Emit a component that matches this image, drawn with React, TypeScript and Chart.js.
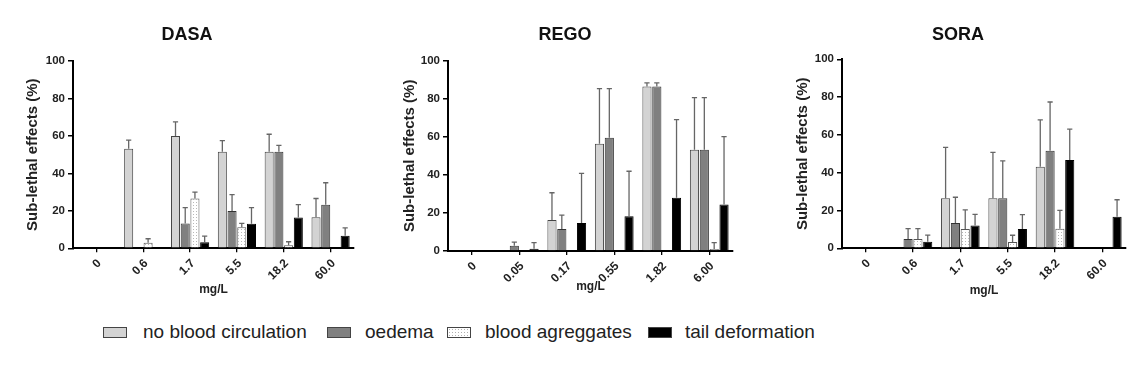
import React, { useEffect, useRef } from "react";
import { Chart, registerables } from "chart.js";

Chart.register(...registerables);

const FONT = "'Liberation Sans', Arial, Helvetica, sans-serif";

// ---- series names ----
const seriesNames = ["no blood circulation", "oedema", "blood agreggates", "tail deformation"];

// ---- DASA ----
const dasaDoses = ["0", "0.6", "1.7", "5.5", "18.2", "60.0"];
const dasaNoBlood = [0, 53.2, 60, 51.6, 51.6, 16.6];
const dasaNoBloodSD = [0, 4.6, 7.5, 5.9, 9.3, 10.0];
const dasaOedema = [0, 0, 13.2, 19.9, 51.6, 23.2];
const dasaOedemaSD = [0, 0, 8.5, 8.8, 3.3, 11.8];
const dasaAggregates = [0, 3.0, 26.6, 11.3, 1.6, 0];
const dasaAggregatesSD = [0, 2.1, 3.4, 2.0, 1.9, 0];
const dasaTail = [0, 0, 3.2, 13.1, 16.5, 6.7];
const dasaTailSD = [0, 0, 3.3, 8.6, 6.8, 4.2];

// ---- REGO ----
const regoDoses = ["0", "0.05", "0.17", "0.55", "1.82", "6.00"];
const regoNoBlood = [0, 0, 16.3, 56.4, 86.4, 53.2];
const regoNoBloodSD = [0, 0, 14.3, 28.9, 1.9, 27.4];
const regoOedema = [0, 2.8, 11.6, 59.5, 86.4, 53.2];
const regoOedemaSD = [0, 1.9, 7.2, 25.8, 1.9, 27.4];
const regoAggregates = [0, 0, 0, 0, 0, 1.0];
const regoAggregatesSD = [0, 0, 0, 0, 0, 3.4];
const regoTail = [0, 1.2, 14.7, 18.2, 28.0, 24.5];
const regoTailSD = [0, 3.2, 26.1, 23.7, 41.0, 35.6];

// ---- SORA ----
const soraDoses = ["0", "0.6", "1.7", "5.5", "18.2", "60.0"];
const soraNoBlood = [0, 0, 26.5, 26.5, 43.2, 0];
const soraNoBloodSD = [0, 0, 26.9, 24.3, 24.7, 0];
const soraOedema = [0, 4.9, 13.4, 26.5, 51.6, 0];
const soraOedemaSD = [0, 5.5, 13.6, 19.8, 25.8, 0];
const soraAggregates = [0, 4.9, 10.2, 3.3, 10.4, 0];
const soraAggregatesSD = [0, 5.5, 10.1, 3.6, 9.7, 0];
const soraTail = [0, 3.5, 12.0, 10.2, 46.7, 16.7];
const soraTailSD = [0, 3.5, 6.0, 7.6, 16.4, 9.0];

const yTicks = [0, 20, 40, 60, 80, 100];

const LIGHT = "#d3d3d3";
const DARK = "#808080";
const BLACK = "#000000";

function makeDotPattern(): CanvasPattern | string {
  const c = document.createElement("canvas");
  c.width = 3;
  c.height = 3;
  const g = c.getContext("2d");
  if (!g) return "#ffffff";
  g.fillStyle = "#ffffff";
  g.fillRect(0, 0, 3, 3);
  g.fillStyle = "#b8b8b8";
  g.fillRect(1, 1, 1, 1);
  const p = g.createPattern(c, "repeat");
  return p || "#ffffff";
}

const errorBarPlugin = {
  id: "errorBars",
  afterDatasetsDraw(chart: any) {
    const ctx = chart.ctx;
    const yScale = chart.scales.y;
    chart.data.datasets.forEach((ds: any, i: number) => {
      const errs: number[] = ds.errors;
      if (!errs) return;
      const meta = chart.getDatasetMeta(i);
      meta.data.forEach((bar: any, j: number) => {
        const v = ds.data[j] as number;
        const e = errs[j];
        if (!e) return;
        const x = bar.x;
        const yBase = yScale.getPixelForValue(v);
        const yTop = yScale.getPixelForValue(v + e);
        ctx.save();
        ctx.strokeStyle = "#666666";
        ctx.lineWidth = 1.3;
        ctx.beginPath();
        ctx.moveTo(x, yBase);
        ctx.lineTo(x, yTop);
        ctx.moveTo(x - 2.6, yTop);
        ctx.lineTo(x + 2.6, yTop);
        ctx.stroke();
        ctx.restore();
      });
    });
  },
};

type Geo = {
  left: number;
  width: number;
  height: number;
  padLeft: number;
  yWidth: number;
  padRight: number;
  titleTop: number;
  titleBottom: number;
  xHeight: number;
  padBottom: number;
};

type PanelProps = {
  title: string;
  labels: string[];
  values: number[][];
  errors: number[][];
  geo: Geo;
};

function Panel({ title, labels, values, errors, geo }: PanelProps) {
  const ref = useRef<HTMLCanvasElement | null>(null);
  useEffect(() => {
    if (!ref.current) return;
    const dots = makeDotPattern();
    const fills: any[] = [LIGHT, DARK, dots, BLACK];
    const borders = ["#444444", "#333333", "#555555", "#000000"];
    const chart = new Chart(ref.current, {
      type: "bar",
      data: {
        labels,
        datasets: values.map((vals, i) => ({
          label: seriesNames[i],
          data: vals,
          errors: errors[i],
          backgroundColor: fills[i],
          borderColor: borders[i],
          borderWidth: 1,
          categoryPercentage: 0.83,
          barPercentage: 0.93,
        })) as any,
      },
      options: {
        animation: false,
        responsive: true,
        maintainAspectRatio: false,
        layout: {
          padding: { left: geo.padLeft, right: geo.padRight, top: 0, bottom: geo.padBottom },
        },
        plugins: {
          legend: { display: false },
          tooltip: { enabled: false },
          title: {
            display: true,
            text: title,
            color: "#111111",
            font: { family: FONT, size: 18, weight: "bold" },
            padding: { top: geo.titleTop, bottom: geo.titleBottom },
          },
        },
        scales: {
          x: {
            afterFit: (s: any) => {
              s.height = geo.xHeight;
            },
            grid: {
              display: true,
              drawOnChartArea: false,
              drawTicks: true,
              tickLength: 4,
              offset: false,
              color: "#000000",
              lineWidth: 1.3,
            },
            border: { display: true, color: "#000000", width: 2 },
            ticks: {
              autoSkip: false,
              maxRotation: 45,
              minRotation: 45,
              padding: 4,
              labelOffset: 3,
              color: "#222222",
              font: { family: FONT, size: 12, weight: "bold" },
            },
            title: {
              display: true,
              text: "mg/L",
              color: "#222222",
              padding: { top: 4, bottom: 4 },
              font: { family: FONT, size: 12, weight: "bold" },
            },
          },
          y: {
            min: 0,
            max: 100,
            afterFit: (s: any) => {
              s.width = geo.yWidth;
            },
            afterBuildTicks: (s: any) => {
              s.ticks = yTicks.map((v) => ({ value: v }));
            },
            grid: {
              display: true,
              drawOnChartArea: false,
              drawTicks: true,
              tickLength: 5,
              color: "#000000",
              lineWidth: 1.5,
            },
            border: { display: true, color: "#000000", width: 2 },
            ticks: {
              padding: 3,
              color: "#222222",
              font: { family: FONT, size: 11.5, weight: "bold" },
            },
            title: {
              display: true,
              text: "Sub-lethal effects (%)",
              color: "#222222",
              padding: { top: 4, bottom: 4 },
              font: { family: FONT, size: 15, weight: "bold" },
            },
          },
        },
      } as any,
      plugins: [errorBarPlugin as any],
    });
    return () => chart.destroy();
  }, []);
  return (
    <div
      style={{
        position: "absolute",
        left: geo.left,
        top: 0,
        width: geo.width,
        height: geo.height,
      }}
    >
      <canvas ref={ref} />
    </div>
  );
}

const dasaGeo: Geo = {
  left: 0, width: 380, height: 310,
  padLeft: 20, yWidth: 53, padRight: 26,
  titleTop: 24.2, titleBottom: 15.2,
  xHeight: 52.9, padBottom: 8.8,
};
const regoGeo: Geo = {
  left: 380, width: 380, height: 310,
  padLeft: 17, yWidth: 51, padRight: 27,
  titleTop: 24.2, titleBottom: 14.9,
  xHeight: 47.2, padBottom: 11.8,
};
const soraGeo: Geo = {
  left: 760, width: 388, height: 310,
  padLeft: 30, yWidth: 52, padRight: 22,
  titleTop: 24.2, titleBottom: 13.5,
  xHeight: 53.7, padBottom: 8,
};

const legendBoxes = [
  { box: 103, text: 143, bg: LIGHT },
  { box: 327, text: 365, bg: DARK },
  { box: 447, text: 485, bg: "dots" },
  { box: 648, text: 685, bg: BLACK },
];

export default function App() {
  return (
    <div
      style={{
        position: "fixed",
        left: 0,
        top: 0,
        width: 1148,
        height: 376,
        background: "#ffffff",
        overflow: "hidden",
        fontFamily: FONT,
      }}
    >
      <Panel
        title="DASA"
        labels={dasaDoses}
        values={[dasaNoBlood, dasaOedema, dasaAggregates, dasaTail]}
        errors={[dasaNoBloodSD, dasaOedemaSD, dasaAggregatesSD, dasaTailSD]}
        geo={dasaGeo}
      />
      <Panel
        title="REGO"
        labels={regoDoses}
        values={[regoNoBlood, regoOedema, regoAggregates, regoTail]}
        errors={[regoNoBloodSD, regoOedemaSD, regoAggregatesSD, regoTailSD]}
        geo={regoGeo}
      />
      <Panel
        title="SORA"
        labels={soraDoses}
        values={[soraNoBlood, soraOedema, soraAggregates, soraTail]}
        errors={[soraNoBloodSD, soraOedemaSD, soraAggregatesSD, soraTailSD]}
        geo={soraGeo}
      />
      {legendBoxes.map((item, i) => (
        <React.Fragment key={i}>
          <div
            style={{
              position: "absolute",
              left: item.box,
              top: 327,
              width: 22,
              height: 9,
              border: "1px solid #444444",
              background:
                item.bg === "dots"
                  ? "radial-gradient(circle, #b0b0b0 0.7px, #ffffff 0.9px) 0 0 / 3px 3px, #ffffff"
                  : item.bg,
            }}
          />
          <div
            style={{
              position: "absolute",
              left: item.text,
              top: 322,
              fontSize: 19,
              lineHeight: "19px",
              color: "#222222",
              whiteSpace: "nowrap",
            }}
          >
            {seriesNames[i]}
          </div>
        </React.Fragment>
      ))}
    </div>
  );
}
